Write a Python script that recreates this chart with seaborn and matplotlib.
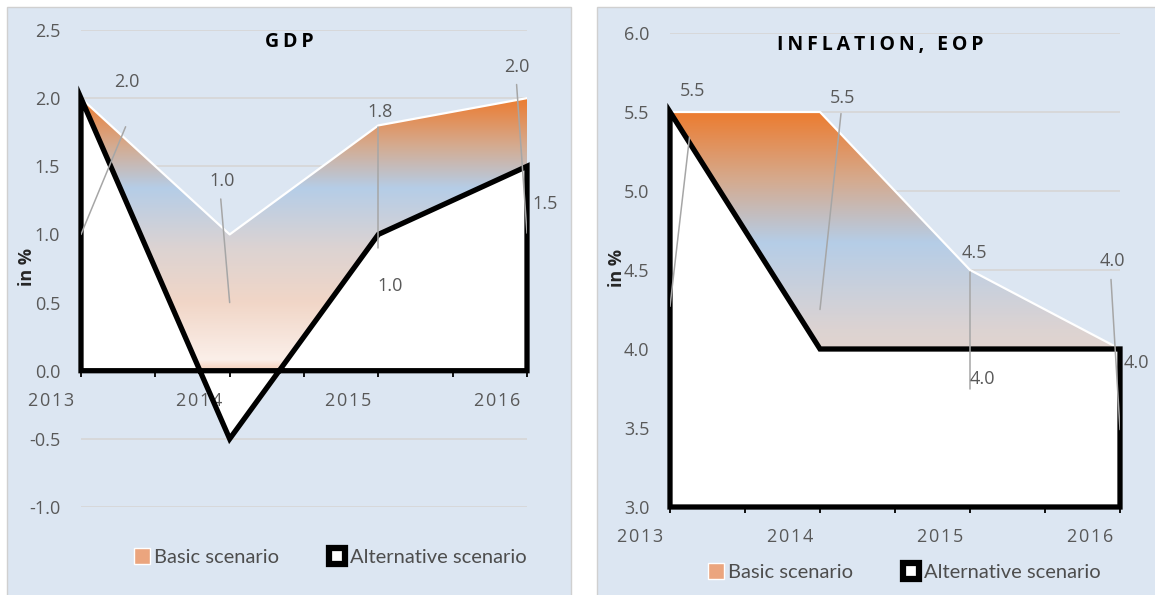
import matplotlib
matplotlib.use("Agg")
import matplotlib.pyplot as plt
import seaborn as sns
import numpy as np
from matplotlib.colors import LinearSegmentedColormap
from matplotlib.patches import Rectangle, Patch, Polygon
from matplotlib.transforms import ScaledTranslation

# data
years = [2013, 2014, 2015, 2016]
gdp_basic = [2.0, 1.0, 1.8, 2.0]
gdp_alt = [2.0, -0.5, 1.0, 1.5]
infl_basic = [5.5, 5.5, 4.5, 4.0]
infl_alt = [5.5, 4.0, 4.0, 4.0]

gdp_yticks = [-1.0, -0.5, 0.0, 0.5, 1.0, 1.5, 2.0, 2.5]
infl_yticks = [3.0, 3.5, 4.0, 4.5, 5.0, 5.5, 6.0]

# label layout: (index, text x, text y, leader from x, from y, to x, to y)
gdp_basic_lbl = [(0, 2013.31, 2.12, 2013.30, 1.79, 2013.0, 1.0),
                 (1, 2013.95, 1.39, 2013.94, 1.26, 2014.0, 0.5),
                 (2, 2015.01, 1.90, 2015.0, 1.79, 2015.0, 0.9),
                 (3, 2015.93, 2.23, 2015.93, 2.10, 2016.0, 1.01)]
gdp_alt_lbl = [(2, 2015.08, 0.62), (3, 2016.12, 1.22)]
infl_basic_lbl = [(0, 2013.15, 5.63, 2013.13, 5.34, 2013.0, 4.27),
                  (1, 2014.15, 5.59, 2014.14, 5.49, 2014.0, 4.25),
                  (2, 2015.03, 4.61, 2015.0, 4.49, 2015.0, 3.75),
                  (3, 2015.95, 4.56, 2015.94, 4.44, 2016.0, 3.49)]
infl_alt_lbl = [(2, 2015.08, 3.81), (3, 2016.11, 3.91)]

sns.set_theme(style="white")
plt.rcParams["font.family"] = ["Open Sans", "DejaVu Sans"]

grey = "#595959"
panel_bg = "#DCE6F2"
cmap = LinearSegmentedColormap.from_list("basic", [
    (0.0, "#F5CDB6"), (0.04, "#FBEFE9"), (0.25, "#F1D6C7"),
    (0.45, "#DCD3D2"), (0.67, "#B5CDE7"), (0.83, "#D5AA8E"),
    (1.0, "#EC7C30")])

fig = plt.figure(figsize=(11.55, 5.95), dpi=100)
fig.patch.set_facecolor("white")

# panel backgrounds
fig.patches.append(Rectangle((7/1155, -0.02), 564/1155, 1.02 - 7/595,
                             transform=fig.transFigure, facecolor=panel_bg,
                             edgecolor="#D0D0D0", lw=1, zorder=-10))
fig.patches.append(Rectangle((597/1155, -0.02), 600/1155, 1.02 - 7/595,
                             transform=fig.transFigure, facecolor=panel_bg,
                             edgecolor="#D0D0D0", lw=1, zorder=-10))


def spaced(s, sep="\u200a"):
    return sep.join(s)


def panel(ax, basic, alt, base, ylim, yticks, title, basic_lbl, alt_lbl):
    ax.set_facecolor("none")
    xs = [years[0]] + years + [years[-1]]

    # basic scenario: gradient area clipped to polygon
    grad = np.linspace(0, 1, 256).reshape(-1, 1)
    im = ax.imshow(grad, cmap=cmap, origin="lower", aspect="auto",
                   extent=[years[0], years[-1], base, max(basic)], zorder=2)
    poly = Polygon(list(zip(xs, [base] + basic + [base])), closed=True,
                   facecolor="none", edgecolor="none")
    ax.add_patch(poly)
    im.set_clip_path(poly)
    sns.lineplot(x=years, y=basic, color="white", lw=1.6, ax=ax, zorder=3)

    # alternative scenario: white area, then black outline on top
    ax.fill(xs, [base] + alt + [base], facecolor="white", edgecolor="none",
            zorder=3.5)
    ax.fill(xs, [base] + alt + [base], facecolor="none", edgecolor="black",
            lw=3.8, joinstyle="miter", zorder=4.6, clip_on=False)

    ax.set_xlim(years[0], years[-1])
    ax.set_ylim(*ylim)

    # leader lines and labels
    for i, tx, ty, fx, fy, lx, ly in basic_lbl:
        ax.plot([fx, lx], [fy, ly], color="#A6A6A6", lw=1.1, zorder=5)
        ax.text(tx, ty, f"{basic[i]:.1f}", color=grey, fontsize=13,
                ha="center", va="center", zorder=6)
    for i, tx, ty in alt_lbl:
        ax.text(tx, ty, f"{alt[i]:.1f}", color=grey, fontsize=13,
                ha="center", va="center", zorder=6, clip_on=False)

    ax.set_yticks(yticks)
    ax.set_yticklabels([f"{v:.1f}" for v in yticks])
    ax.set_xticks(years)
    ax.set_xticklabels([spaced(str(y)) for y in years])
    ax.set_xticks([y + 0.5 for y in years[:-1]], minor=True)
    for s in ax.spines.values():
        s.set_color("none")
    ax.spines["bottom"].set_position(("data", base))
    ax.tick_params(axis="y", length=0, pad=15, labelsize=13, labelcolor=grey)
    ax.tick_params(axis="x", which="both", direction="out", length=4,
                   width=1.3, color="black", bottom=True, pad=11,
                   labelsize=13, labelcolor=grey)
    shift = ScaledTranslation(-0.30, 0, fig.dpi_scale_trans)
    for lab in ax.get_xticklabels():
        lab.set_transform(lab.get_transform() + shift)
    ax.yaxis.grid(True, color="#D6D6D6", lw=1.2)
    ax.xaxis.grid(False)
    ax.set_axisbelow(True)
    ax.xaxis.set_zorder(4.5)

    ax.text(0.468, 0.975, title, transform=ax.transAxes, ha="center",
            va="center", fontsize=14, fontweight="bold", color="black")


ax1 = fig.add_axes([81/1155, 1 - 507/595, 446/1155, 477/595])
ax2 = fig.add_axes([670/1155, 1 - 507/595, 450/1155, 474/595])

panel(ax1, gdp_basic, gdp_alt, 0.0, (-1.0, 2.5), gdp_yticks,
      spaced("GDP", "\u2009"), gdp_basic_lbl, gdp_alt_lbl)
panel(ax2, infl_basic, infl_alt, 3.0, (3.0, 6.0), infl_yticks,
      spaced("INFLATION, EOP", "\u2009"), infl_basic_lbl, infl_alt_lbl)

fig.text(27/1155, 1 - 267/595, "in %", rotation=90, ha="center", va="center",
         fontsize=13, fontweight="bold", color="#262626")
fig.text(617/1155, 1 - 268/595, "in %", rotation=90, ha="center", va="center",
         fontsize=13, fontweight="bold", color="#262626")

handles = [Patch(facecolor="#EBA57E", edgecolor="white", lw=1),
           Patch(facecolor="white", edgecolor="black", lw=4.5)]
names = ["Basic scenario", "Alternative scenario"]
for cx, cy in [(330, 557), (904, 572)]:
    fig.legend(handles, names, loc="center", ncol=2, frameon=False,
               bbox_to_anchor=(cx/1155, 1 - cy/595), handlelength=0.8,
               handleheight=0.8, handletextpad=0.2, columnspacing=2.5,
               prop={"family": ["Lato", "DejaVu Sans"], "size": 14.5},
               labelcolor="#4D4D4D")

plt.savefig("out.png", dpi=100)
